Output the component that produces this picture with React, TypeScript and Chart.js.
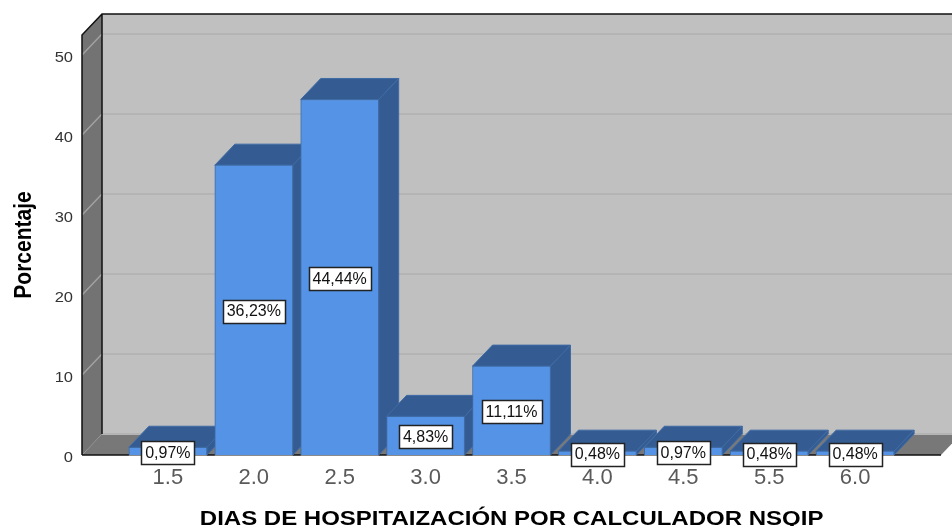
import React, { useEffect, useRef } from "react";
import { Chart, registerables } from "chart.js";

Chart.register(...registerables);

const categories = ["1.5", "2.0", "2.5", "3.0", "3.5", "4.0", "4.5", "5.5", "6.0"];
const percentages = [0.97, 36.23, 44.44, 4.83, 11.11, 0.48, 0.97, 0.48, 0.48];
const valueLabels = ["0,97%", "36,23%", "44,44%", "4,83%", "11,11%", "0,48%", "0,97%", "0,48%", "0,48%"];
const xTitle = "DIAS DE HOSPITAIZACIÓN POR CALCULADOR NSQIP";
const yTitle = "Porcentaje";

const DX = 20;
const DY = 21;
const FONT = '"Liberation Sans", Arial, sans-serif';

function poly(ctx: CanvasRenderingContext2D, pts: number[][], fill: string, stroke?: string, lw = 1) {
  ctx.beginPath();
  pts.forEach((p, i) => (i ? ctx.lineTo(p[0], p[1]) : ctx.moveTo(p[0], p[1])));
  ctx.closePath();
  ctx.fillStyle = fill;
  ctx.fill();
  if (stroke) {
    ctx.strokeStyle = stroke;
    ctx.lineWidth = lw;
    ctx.stroke();
  }
}

// The reference's text is stretched sideways; this keeps the axis' own text drawing but widens it.
function stretch(scale: any, method: string, cx: number, sx: number, tx: number, ty: number) {
  const flag = "_wrapped_" + method;
  if (scale[flag]) return;
  scale[flag] = true;
  const original = scale[method];
  scale[method] = function (...args: any[]) {
    const ctx = scale.ctx;
    ctx.save();
    ctx.translate(cx + tx, ty);
    ctx.scale(sx, 1);
    ctx.translate(-cx, 0);
    original.apply(scale, args);
    ctx.restore();
  };
}

const scene3d = {
  id: "scene3d",
  beforeDatasetsDraw(chart: any) {
    const { ctx, chartArea: a, scales } = chart;
    const y = scales.y;
    const { left: l, right: r, top: t, bottom: b } = a;
    ctx.save();
    poly(ctx, [[l + DX, t - DY], [r + DX, t - DY], [r + DX, b - DY], [l + DX, b - DY]], "#c0c0c0");
    poly(ctx, [[l, t], [l + DX, t - DY], [l + DX, b - DY], [l, b]], "#737373");
    poly(ctx, [[l, b], [l + DX, b - DY], [r + DX, b - DY], [r, b]], "#787878");

    y.ticks.forEach((tk: any) => {
      const py = Math.round(y.getPixelForValue(tk.value));
      ctx.lineWidth = 2;
      ctx.strokeStyle = "#b4b4b4";
      ctx.beginPath();
      ctx.moveTo(l + DX, py - DY);
      ctx.lineTo(r + DX, py - DY);
      ctx.stroke();
      if (tk.value > 0) {
        ctx.lineWidth = 1.5;
        ctx.strokeStyle = "#a2a2a2";
        ctx.beginPath();
        ctx.moveTo(l, py);
        ctx.lineTo(l + DX, py - DY);
        ctx.stroke();
      }
    });

    ctx.strokeStyle = "#111111";
    ctx.lineWidth = 1.5;
    ctx.beginPath();
    ctx.moveTo(l, b);
    ctx.lineTo(l, t);
    ctx.lineTo(l + DX, t - DY);
    ctx.lineTo(r + DX, t - DY);
    ctx.moveTo(l + DX, t - DY);
    ctx.lineTo(l + DX, b - DY);
    ctx.moveTo(l, b);
    ctx.lineTo(r, b);
    ctx.stroke();

    const bars = chart.getDatasetMeta(0).data;
    bars.forEach((bar: any, i: number) => {
      if (percentages[i - 1] === undefined) return;
      const x0 = bar.x - bar.width / 2;
      const x1 = bar.x + bar.width / 2;
      const top = bar.y;
      const base = bar.base;
      poly(ctx, [[x0, top], [x0 + DX, top - DY], [x1 + DX, top - DY], [x1, top]], "#345c92", "#3f6ba5");
      poly(ctx, [[x1, top], [x1 + DX, top - DY], [x1 + DX, base - DY], [x1, base]], "#345c92", "#3f6ba5");
    });
    ctx.restore();
  },
  afterDatasetsDraw(chart: any) {
    const { ctx } = chart;
    const bars = chart.getDatasetMeta(0).data;
    ctx.save();
    ctx.font = `16px ${FONT}`;
    ctx.textAlign = "center";
    ctx.textBaseline = "middle";
    bars.forEach((bar: any, i: number) => {
      const text = valueLabels[i - 1];
      if (text === undefined) return;
      ctx.strokeStyle = "#8a8a8a";
      ctx.lineWidth = 1;
      ctx.beginPath();
      ctx.moveTo(bar.x - bar.width / 2, bar.base + 0.5);
      ctx.lineTo(bar.x + bar.width / 2, bar.base + 0.5);
      ctx.stroke();

      const w = Math.round(ctx.measureText(text).width + 8);
      const h = 23;
      const cy = (bar.y + bar.base) / 2 + 1;
      const bx = Math.round(bar.x - w / 2) + 0.5;
      const by = Math.round(cy - h / 2) + 0.5;
      ctx.fillStyle = "#ffffff";
      ctx.fillRect(bx, by, w, h);
      ctx.strokeStyle = "#222222";
      ctx.lineWidth = 1.5;
      ctx.strokeRect(bx, by, w, h);
      ctx.fillStyle = "#111111";
      ctx.fillText(text, bar.x, cy + 1);
    });
    ctx.restore();
  },
};

export default function App() {
  const ref = useRef<HTMLCanvasElement>(null);
  useEffect(() => {
    const chart = new Chart(ref.current as HTMLCanvasElement, {
      type: "bar",
      data: {
        labels: ["", ...categories, ""],
        datasets: [
          {
            data: [null, ...percentages, null],
            backgroundColor: "#5593e6",
            borderColor: "#3f6ba5",
            borderWidth: 1,
            barThickness: 78,
          },
        ],
      },
      options: {
        responsive: false,
        animation: false,
        layout: { padding: { left: 0, top: 35, right: 11, bottom: 0 } },
        plugins: { legend: { display: false }, tooltip: { enabled: false } },
        scales: {
          x: {
            offset: false,
            grid: { display: false, drawTicks: false },
            border: { display: false },
            afterFit(s: any) {
              s.height = 71;
            },
            afterUpdate(s: any) {
              stretch(s, "drawTitle", 511, 1.2, 0, 5);
            },
            ticks: {
              autoSkip: false,
              maxRotation: 0,
              padding: 10,
              color: "#5a5a5a",
              font: { family: FONT, size: 22 },
            },
            title: {
              display: true,
              text: xTitle,
              color: "#000000",
              padding: { top: 0, bottom: 0 },
              font: { family: FONT, size: 20, weight: "bold" },
            },
          },
          y: {
            min: 0,
            max: 52.5,
            grid: { display: false, drawTicks: false },
            border: { display: false },
            afterFit(s: any) {
              s.width = 82;
            },
            afterUpdate(s: any) {
              stretch(s, "drawTitle", 11, 1.15, 11, 0);
              stretch(s, "drawLabels", 73, 1.1, 0, 3);
            },
            ticks: {
              stepSize: 10,
              includeBounds: false,
              padding: 9,
              color: "#333333",
              font: { family: FONT, size: 15 },
            },
            title: {
              display: true,
              text: yTitle,
              color: "#000000",
              padding: { top: 0, bottom: 0 },
              font: { family: FONT, size: 21, weight: "bold" },
            },
          },
        },
      },
      plugins: [scene3d],
    } as any);
    return () => chart.destroy();
  }, []);
  return (
    <div style={{ position: "fixed", left: 0, top: 0, width: 952, height: 526, background: "#ffffff" }}>
      <canvas ref={ref} width={952} height={526} style={{ display: "block" }} />
    </div>
  );
}
